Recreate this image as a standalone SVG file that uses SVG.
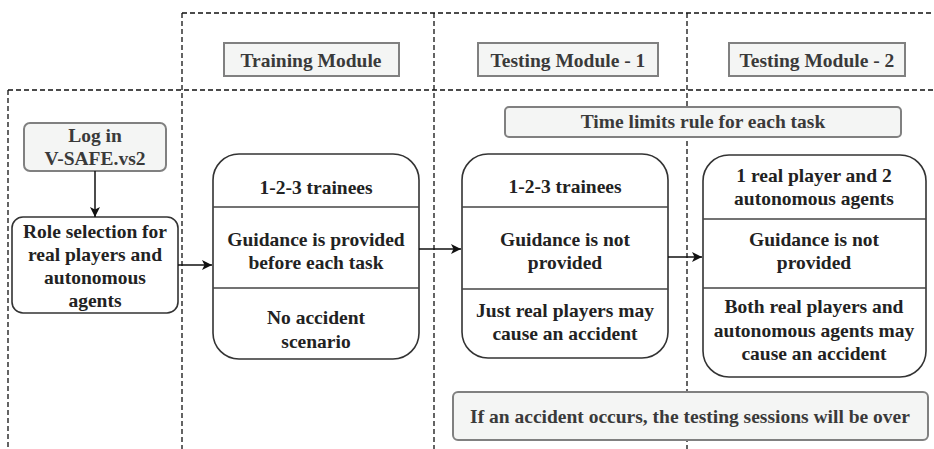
<svg xmlns="http://www.w3.org/2000/svg" width="934" height="449" viewBox="0 0 934 449">
<defs>
<style>
.dash{stroke:#111;stroke-width:1.3;stroke-dasharray:5 3;fill:none}
.title{fill:#f4f5f4;stroke:#808080;stroke-width:2}
.box{fill:#fff;stroke:#333;stroke-width:1.6}
.div{stroke:#444;stroke-width:1.6}
.conn{stroke:#111;stroke-width:1.5;fill:none}
</style>
<marker id="ah" viewBox="0 0 10 10" refX="10" refY="5" markerWidth="10" markerHeight="10" markerUnits="userSpaceOnUse" orient="auto">
<path d="M0,0 L10,5 L0,10 L2.5,5 Z" fill="#111"/>
</marker>
</defs>
<rect width="934" height="449" fill="#fff"/>
<g id="swimlanes">
<path class="dash" d="M182,13 H934"/>
<path class="dash" d="M8,90 H934"/>
<path class="dash" d="M8,90 V449"/>
<path class="dash" d="M182,13 V449"/>
<path class="dash" d="M434,13 V449"/>
<path class="dash" d="M687,13 V449"/>
</g>
<g id="title-training">
<rect class="title" x="224" y="43" width="175" height="33"/>
<text x="311" y="67" font-family="Liberation Serif" font-weight="bold" font-size="19.5" fill="#3a3a3a" text-anchor="middle">Training Module</text>
</g>
<g id="title-testing1">
<rect class="title" x="478" y="43" width="180" height="33"/>
<text x="568" y="67" font-family="Liberation Serif" font-weight="bold" font-size="19.5" fill="#3a3a3a" text-anchor="middle">Testing Module - 1</text>
</g>
<g id="title-testing2">
<rect class="title" x="729" y="43" width="176" height="33"/>
<text x="817" y="67" font-family="Liberation Serif" font-weight="bold" font-size="19.5" fill="#3a3a3a" text-anchor="middle">Testing Module - 2</text>
</g>
<g id="time-limits">
<rect class="title" x="505" y="107" width="396" height="30" rx="4" stroke-width="1.5"/>
<text x="703" y="128" font-family="Liberation Serif" font-weight="bold" font-size="19.5" fill="#3a3a3a" text-anchor="middle">Time limits rule for each task</text>
</g>
<g id="login">
<rect class="title" x="24" y="123" width="142" height="48" rx="6" stroke-width="1.5"/>
<text x="95" y="142" font-family="Liberation Serif" font-weight="bold" font-size="19.5" fill="#3a3a3a" text-anchor="middle">Log in</text>
<text x="95" y="165" font-family="Liberation Serif" font-weight="bold" font-size="19.5" fill="#3a3a3a" text-anchor="middle">V-SAFE.vs2</text>
</g>
<g id="role-selection">
<rect class="box" x="12" y="217" width="166" height="96" rx="11"/>
<text x="95" y="238" font-family="Liberation Serif" font-weight="bold" font-size="19.5" fill="#222222" text-anchor="middle">Role selection for</text>
<text x="95" y="261" font-family="Liberation Serif" font-weight="bold" font-size="19.5" fill="#222222" text-anchor="middle">real players and</text>
<text x="95" y="284" font-family="Liberation Serif" font-weight="bold" font-size="19.5" fill="#222222" text-anchor="middle">autonomous</text>
<text x="95" y="307" font-family="Liberation Serif" font-weight="bold" font-size="19.5" fill="#222222" text-anchor="middle">agents</text>
</g>
<g id="training">
<rect class="box" x="213" y="154" width="206" height="205" rx="26"/>
<line class="div" x1="213" y1="207" x2="419" y2="207"/>
<line class="div" x1="213" y1="288" x2="419" y2="288"/>
<text x="316" y="194" font-family="Liberation Serif" font-weight="bold" font-size="19.5" fill="#222222" text-anchor="middle">1-2-3 trainees</text>
<text x="316" y="246" font-family="Liberation Serif" font-weight="bold" font-size="19.5" fill="#222222" text-anchor="middle">Guidance is provided</text>
<text x="316" y="269" font-family="Liberation Serif" font-weight="bold" font-size="19.5" fill="#222222" text-anchor="middle">before each task</text>
<text x="316" y="324" font-family="Liberation Serif" font-weight="bold" font-size="19.5" fill="#222222" text-anchor="middle">No accident</text>
<text x="316" y="348" font-family="Liberation Serif" font-weight="bold" font-size="19.5" fill="#222222" text-anchor="middle">scenario</text>
</g>
<g id="testing1">
<rect class="box" x="462" y="154" width="206" height="204" rx="26"/>
<line class="div" x1="462" y1="207" x2="668" y2="207"/>
<line class="div" x1="462" y1="289" x2="668" y2="289"/>
<text x="565" y="193" font-family="Liberation Serif" font-weight="bold" font-size="19.5" fill="#222222" text-anchor="middle">1-2-3 trainees</text>
<text x="565" y="246" font-family="Liberation Serif" font-weight="bold" font-size="19.5" fill="#222222" text-anchor="middle">Guidance is not</text>
<text x="565" y="269" font-family="Liberation Serif" font-weight="bold" font-size="19.5" fill="#222222" text-anchor="middle">provided</text>
<text x="565" y="317" font-family="Liberation Serif" font-weight="bold" font-size="19.5" fill="#222222" text-anchor="middle">Just real players may</text>
<text x="565" y="340" font-family="Liberation Serif" font-weight="bold" font-size="19.5" fill="#222222" text-anchor="middle">cause an accident</text>
</g>
<g id="testing2">
<rect class="box" x="703" y="155" width="223" height="222" rx="26"/>
<line class="div" x1="703" y1="219" x2="926" y2="219"/>
<line class="div" x1="703" y1="288" x2="926" y2="288"/>
<text x="814" y="182" font-family="Liberation Serif" font-weight="bold" font-size="19.5" fill="#222222" text-anchor="middle">1 real player and 2</text>
<text x="814" y="205" font-family="Liberation Serif" font-weight="bold" font-size="19.5" fill="#222222" text-anchor="middle">autonomous agents</text>
<text x="814" y="246" font-family="Liberation Serif" font-weight="bold" font-size="19.5" fill="#222222" text-anchor="middle">Guidance is not</text>
<text x="814" y="269" font-family="Liberation Serif" font-weight="bold" font-size="19.5" fill="#222222" text-anchor="middle">provided</text>
<text x="814" y="313" font-family="Liberation Serif" font-weight="bold" font-size="19.5" fill="#222222" text-anchor="middle">Both real players and</text>
<text x="814" y="337" font-family="Liberation Serif" font-weight="bold" font-size="19.5" fill="#222222" text-anchor="middle">autonomous agents may</text>
<text x="814" y="360" font-family="Liberation Serif" font-weight="bold" font-size="19.5" fill="#222222" text-anchor="middle">cause an accident</text>
</g>
<g id="accident-rule">
<rect class="title" x="453" y="392" width="475" height="48" rx="5" stroke-width="1.5"/>
<text x="690" y="423" font-family="Liberation Serif" font-weight="bold" font-size="19.5" fill="#3a3a3a" text-anchor="middle">If an accident occurs, the testing sessions will be over</text>
</g>
<g id="connectors">
<line class="conn" x1="95" y1="171" x2="95" y2="217" marker-end="url(#ah)"/>
<line class="conn" x1="178" y1="265" x2="212" y2="265" marker-end="url(#ah)"/>
<line class="conn" x1="419" y1="249" x2="461" y2="249" marker-end="url(#ah)"/>
<line class="conn" x1="668" y1="257" x2="702" y2="257" marker-end="url(#ah)"/>
</g>
</svg>
